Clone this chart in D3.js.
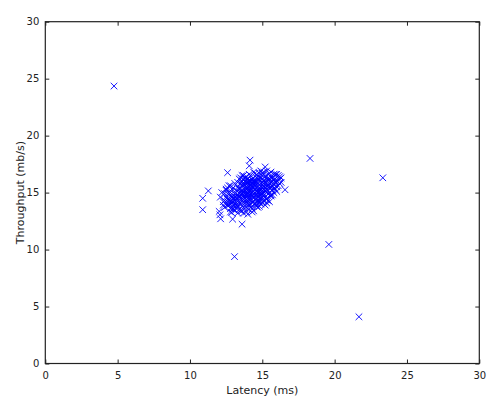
<!DOCTYPE html>
<html>
<head>
<meta charset="utf-8">
<script src="https://cdn.jsdelivr.net/npm/d3@7"></script>
<style>
  body { margin: 0; background: #fff; }
  text { font-family: "DejaVu Sans", Verdana, sans-serif; fill: #222; }
</style>
</head>
<body>
<div id="chart"></div>
<script>
// values (outliers first, then the main cluster)
const latency = [
  4.75, 18.3, 23.33, 19.6, 21.68, 13.08, 10.88, 10.88, 11.27, 12.02, 12.07, 12.12, 12.95, 12.88, 13.6, 14.15, 14.1, 12.6, 15.2, 16.57, 16.2,
  13.4,14.2,15.1,13.9,14.6,12.9,15.5,14.0,13.6,14.8,
  14.3,13.1,15.0,14.5,13.7,15.8,12.7,14.1,14.9,13.3,
  15.3,14.4,13.8,12.5,15.6,14.7,13.5,14.0,16.0,13.2,
  14.6,13.9,15.2,12.8,14.3,15.7,13.6,14.9,13.0,14.2,
  15.4,13.7,14.5,12.4,15.9,14.1,13.4,14.8,15.1,13.8,
  12.6,14.4,15.5,13.3,14.7,13.9,16.1,14.0,12.9,15.3,
  14.2,13.5,15.0,14.6,13.1,15.6,14.9,13.8,14.3,15.2,
  13.6,14.8,12.8,15.8,14.1,13.2,15.4,14.5,13.9,14.7,
  15.0,13.4,14.2,16.3,13.7,14.6,12.7,15.5,14.0,13.3,
  14.4,15.7,13.0,14.9,13.8,15.1,14.3,12.5,15.9,14.0,
  13.5,14.7,15.3,13.9,14.5,12.9,15.6,14.1,13.6,15.0,
  14.8,13.2,14.2,15.4,13.7,16.0,14.6,13.1,15.2,14.4,
  13.8,15.8,14.0,12.6,14.9,13.4,15.5,14.3,13.0,14.7,
  15.1,13.6,14.5,16.2,13.9,14.1,12.8,15.3,14.8,13.5,
  14.3,15.7,13.3,14.6,15.0,13.8,14.2,12.4,15.9,14.9,
  13.7,14.4,15.4,13.1,14.0,15.6,14.7,13.6,15.2,14.1,
  12.7,15.0,14.5,13.9,14.8,13.3,16.1,14.2,13.5,15.3,
  14.6,13.0,15.5,14.0,13.7,14.9,15.8,12.9,14.3,15.1,
  13.4,14.7,15.7,13.8,14.4,12.6,15.4,14.1,13.2,14.8,
  15.0,13.6,14.2,16.0,13.9,14.5,15.2,13.1,14.6,15.6,
  14.0,12.8,15.3,14.9,13.5,14.3,15.9,13.7,14.7,12.5,
  15.4,14.1,13.3,14.6,15.1,13.8,14.4,16.2,13.0,14.8,
  13.6,15.5,14.2,12.9,14.9,13.4,15.7,14.0,13.9,15.2,
  14.5,13.1,15.0,14.3,12.7,15.8,14.7,13.6,14.1,15.3,
  13.8,14.4,15.6,13.3,14.8,16.0,13.7,14.6,12.6,15.1,
  14.2,15.4,13.5,14.9,14.0,13.2,15.9,14.5,13.9,15.0,
  14.7,13.0,15.2,14.3,13.6,15.7,12.8,14.1,15.5,13.8,
  14.4,15.1,13.4,14.8,16.3,13.9,14.6,15.3,14.0,13.5,
  12.1,12.3,12.2,12.5,12.4,12.8,12.3
];
const throughput = [
  24.35, 18.0, 16.3, 10.45, 4.1, 9.38, 14.5, 13.5, 15.15, 13.35, 13.05, 12.7, 12.67, 13.25, 12.23, 17.85, 17.35, 16.75, 17.25, 15.25, 16.4,
  14.6,15.3,15.8,14.9,15.1,14.2,16.1,15.6,15.2,14.7,
  14.4,14.9,15.4,16.0,14.1,15.7,13.9,14.8,16.3,15.5,
  15.0,15.7,13.8,14.6,16.4,14.3,14.0,16.2,16.0,13.6,
  15.5,15.9,14.6,15.0,13.6,15.2,16.0,15.0,13.9,16.5,
  16.6,15.0,14.0,13.7,16.2,15.1,13.5,16.1,14.3,16.3,
  14.9,14.6,15.4,14.4,15.8,13.3,15.6,14.3,15.3,16.9,
  14.9,15.4,16.5,13.8,13.4,15.9,14.4,14.5,15.9,15.2,
  14.3,15.3,13.6,16.6,16.0,15.2,14.9,15.6,15.5,13.7,
  14.1,16.2,14.0,16.3,15.7,16.3,14.4,16.2,15.9,14.8,
  15.1,14.8,14.6,15.8,14.7,16.0,13.3,15.2,15.3,14.5,
  13.4,16.4,14.5,16.4,15.3,13.6,15.5,13.9,16.5,16.7,
  14.2,14.1,15.7,15.7,13.2,15.1,14.8,15.8,16.4,16.8,
  15.2,16.1,13.1,13.9,14.9,15.0,14.2,15.5,14.5,15.0,
  15.6,13.8,16.7,15.8,14.2,16.6,14.8,15.3,13.8,15.8,
  14.7,16.3,13.9,14.5,15.2,16.0,15.1,14.3,16.6,16.9,
  14.4,13.4,16.1,14.6,15.4,14.7,15.2,15.7,13.9,15.6,
  15.6,15.9,15.8,14.4,14.9,13.2,16.5,13.7,16.3,15.6,
  16.0,15.4,15.0,15.0,16.2,14.0,15.4,14.1,16.2,14.9,
  14.7,14.6,15.6,13.6,15.9,15.4,14.3,16.0,13.9,16.7,
  14.6,15.0,14.4,16.6,15.1,15.0,15.9,14.3,14.2,16.8,
  15.8,14.0,15.3,15.3,14.5,14.1,15.9,16.5,14.4,14.0,
  15.6,14.4,15.9,16.6,15.5,14.9,15.5,16.2,14.2,15.1,
  14.9,16.7,16.0,14.6,14.5,14.2,16.0,13.6,15.3,15.4,
  15.9,14.0,16.2,15.0,14.1,15.0,16.2,13.4,14.6,14.4,
  15.7,16.0,14.8,13.8,15.4,15.5,14.6,14.8,14.4,16.1,
  15.6,16.3,14.8,15.6,14.9,14.6,16.0,14.4,14.0,14.9,
  15.0,13.6,15.1,16.1,15.6,15.5,13.3,14.0,15.8,15.0,
  14.9,16.8,15.3,14.1,15.9,16.1,13.9,14.1,15.2,15.0,
  14.6,14.2,15.0,15.3,14.9,15.6,13.9
];
const xTicks = [0, 5, 10, 15, 20, 25, 30];
const yTicks = [0, 5, 10, 15, 20, 25, 30];

const points = latency.map((v, i) => ({x: v, y: throughput[i]}));

const width = 502, height = 398;
const margin = {top: 21.7, right: 22.7, bottom: 34.5, left: 45.3};
const innerW = width - margin.left - margin.right;
const innerH = height - margin.top - margin.bottom;

const x = d3.scaleLinear().domain([0, 30]).range([0, innerW]);
const y = d3.scaleLinear().domain([0, 30]).range([innerH, 0]);

const svg = d3.select("#chart").append("svg")
    .attr("width", width).attr("height", height);

const g = svg.append("g")
    .attr("transform", `translate(${margin.left},${margin.top})`);

// markers
const m = 3.3;
g.selectAll("path.pt")
    .data(points)
    .join("path")
    .attr("class", "pt")
    .attr("d", d => {
        const px = x(d.x), py = y(d.y);
        return `M${px - m},${py - m}L${px + m},${py + m}M${px - m},${py + m}L${px + m},${py - m}`;
    })
    .attr("stroke", "#0000ff")
    .attr("stroke-width", 0.9)
    .attr("fill", "none");

// frame with inward ticks on all four sides
const styleAxis = (sel) => {
    sel.select(".domain").remove();
    sel.selectAll(".tick line").attr("stroke", "#222");
    sel.selectAll(".tick text").attr("font-size", 10).attr("fill", "#222")
        .attr("font-family", "DejaVu Sans, Verdana, sans-serif");
};

g.append("g").attr("transform", `translate(0,${innerH})`)
    .call(d3.axisBottom(x).tickValues(xTicks).tickSizeInner(-4).tickPadding(8))
    .call(styleAxis);
g.append("g")
    .call(d3.axisLeft(y).tickValues(yTicks).tickSizeInner(-4).tickPadding(6))
    .call(styleAxis);
g.append("g")
    .call(d3.axisTop(x).tickValues(xTicks).tickSizeInner(-4).tickFormat(""))
    .call(styleAxis);
g.append("g").attr("transform", `translate(${innerW},0)`)
    .call(d3.axisRight(y).tickValues(yTicks).tickSizeInner(-4).tickFormat(""))
    .call(styleAxis);

g.append("rect")
    .attr("width", innerW).attr("height", innerH)
    .attr("fill", "none").attr("stroke", "#222").attr("stroke-width", 1.2);

// axis labels
svg.append("text")
    .attr("x", margin.left + innerW / 2)
    .attr("y", 394)
    .attr("text-anchor", "middle")
    .attr("font-size", 11)
    .text("Latency (ms)");

svg.append("text")
    .attr("transform", `translate(24,${margin.top + innerH / 2}) rotate(-90)`)
    .attr("text-anchor", "middle")
    .attr("font-size", 11)
    .text("Throughput (mb/s)");
</script>
</body>
</html>
